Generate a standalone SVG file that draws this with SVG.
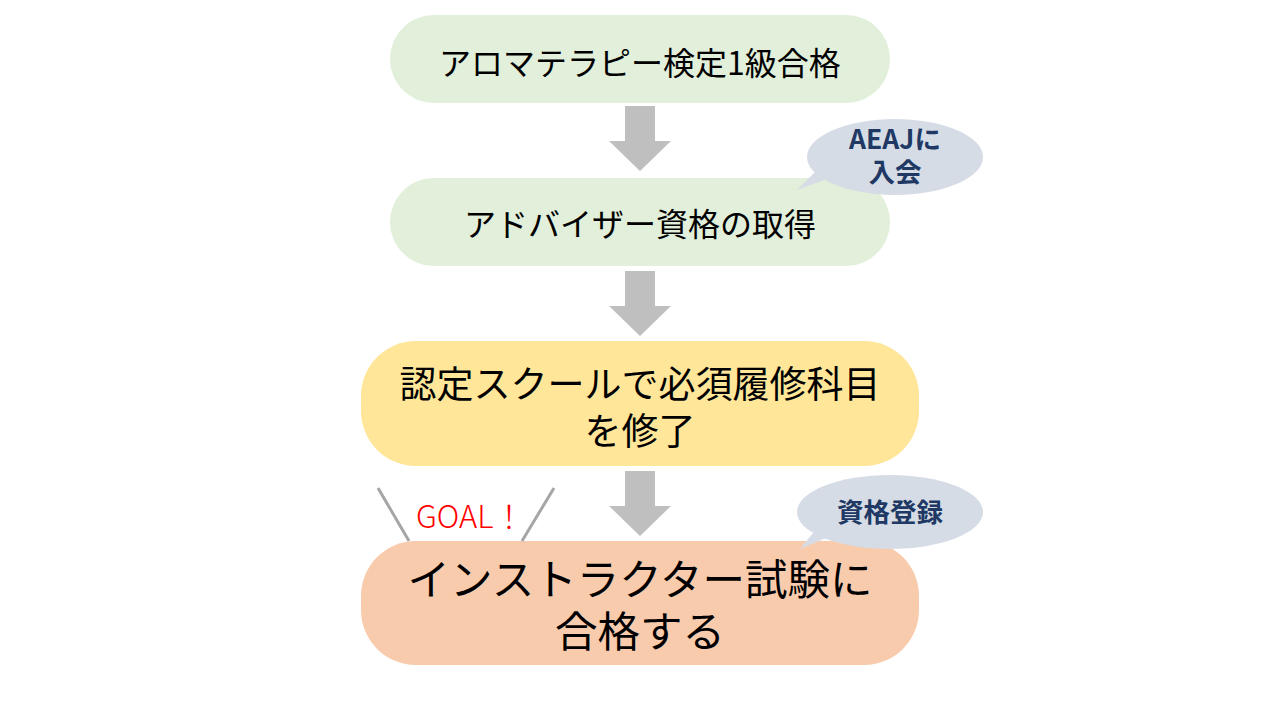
<svg xmlns="http://www.w3.org/2000/svg" width="1280" height="720" viewBox="0 0 1280 720">
<defs>
<style>
.t{font-family:"Noto Sans CJK JP","Noto Sans",sans-serif;fill:#000;text-anchor:middle}
.c{font-family:"Noto Sans CJK JP","Noto Sans",sans-serif;fill:#203864;font-weight:bold;font-size:26.5px;text-anchor:middle}
.arr{fill:#BFBFBF}
.call{fill:#D6DCE5}
</style>
</defs>
<rect width="1280" height="720" fill="#fff"/>
<g id="connectors">
<polygon class="arr" points="625,106 655,106 655,141 671,141 640,171 609,141 625,141"/>
<polygon class="arr" points="625,271 655,271 655,306 671,306 640,336 609,306 625,306"/>
<polygon class="arr" points="625,471 655,471 655,506 671,506 640,536 609,506 625,506"/>
</g>
<g id="n1">
<rect x="390" y="15" width="500" height="88" rx="44" fill="#E2EFDA"/>
<text class="t" x="640" y="75" font-size="32">アロマテラピー検定1級合格</text>
</g>
<g id="n2">
<rect x="390" y="178" width="500" height="88" rx="44" fill="#E2EFDA"/>
<text class="t" x="640" y="236" font-size="32">アドバイザー資格の取得</text>
</g>
<g id="n3">
<rect x="361" y="341" width="558" height="125" rx="55" fill="#FFE699"/>
<text class="t" font-size="37"><tspan x="640" y="398">認定スクールで必須履修科目</tspan><tspan x="640" y="445">を修了</tspan></text>
</g>
<g id="n4">
<rect x="361" y="541" width="558" height="124" rx="55" fill="#F8CBAD"/>
<text class="t" font-size="42.5"><tspan x="640" y="595">インストラクター試験に</tspan><tspan x="640" y="647">合格する</tspan></text>
</g>
<g id="callout1">
<polygon class="call" points="797,190 835,176 822,165"/>
<ellipse class="call" cx="895" cy="157" rx="88" ry="38"/>
<text class="c"><tspan x="895" y="149">AEAJに</tspan><tspan x="895" y="182">入会</tspan></text>
</g>
<g id="callout2">
<polygon class="call" points="800,549 838,533 822,522"/>
<ellipse class="call" cx="890" cy="512" rx="93" ry="37"/>
<text class="c" x="890" y="522">資格登録</text>
</g>
<g id="goal">
<line x1="378" y1="488" x2="409" y2="541" stroke="#A6A6A6" stroke-width="3"/>
<line x1="554" y1="488" x2="522" y2="541" stroke="#A6A6A6" stroke-width="3"/>
<text x="416" y="528" font-family="Noto Sans CJK JP, Noto Sans, sans-serif" font-size="31" font-weight="300" fill="#FF0000">GOAL！</text>
</g>
</svg>
